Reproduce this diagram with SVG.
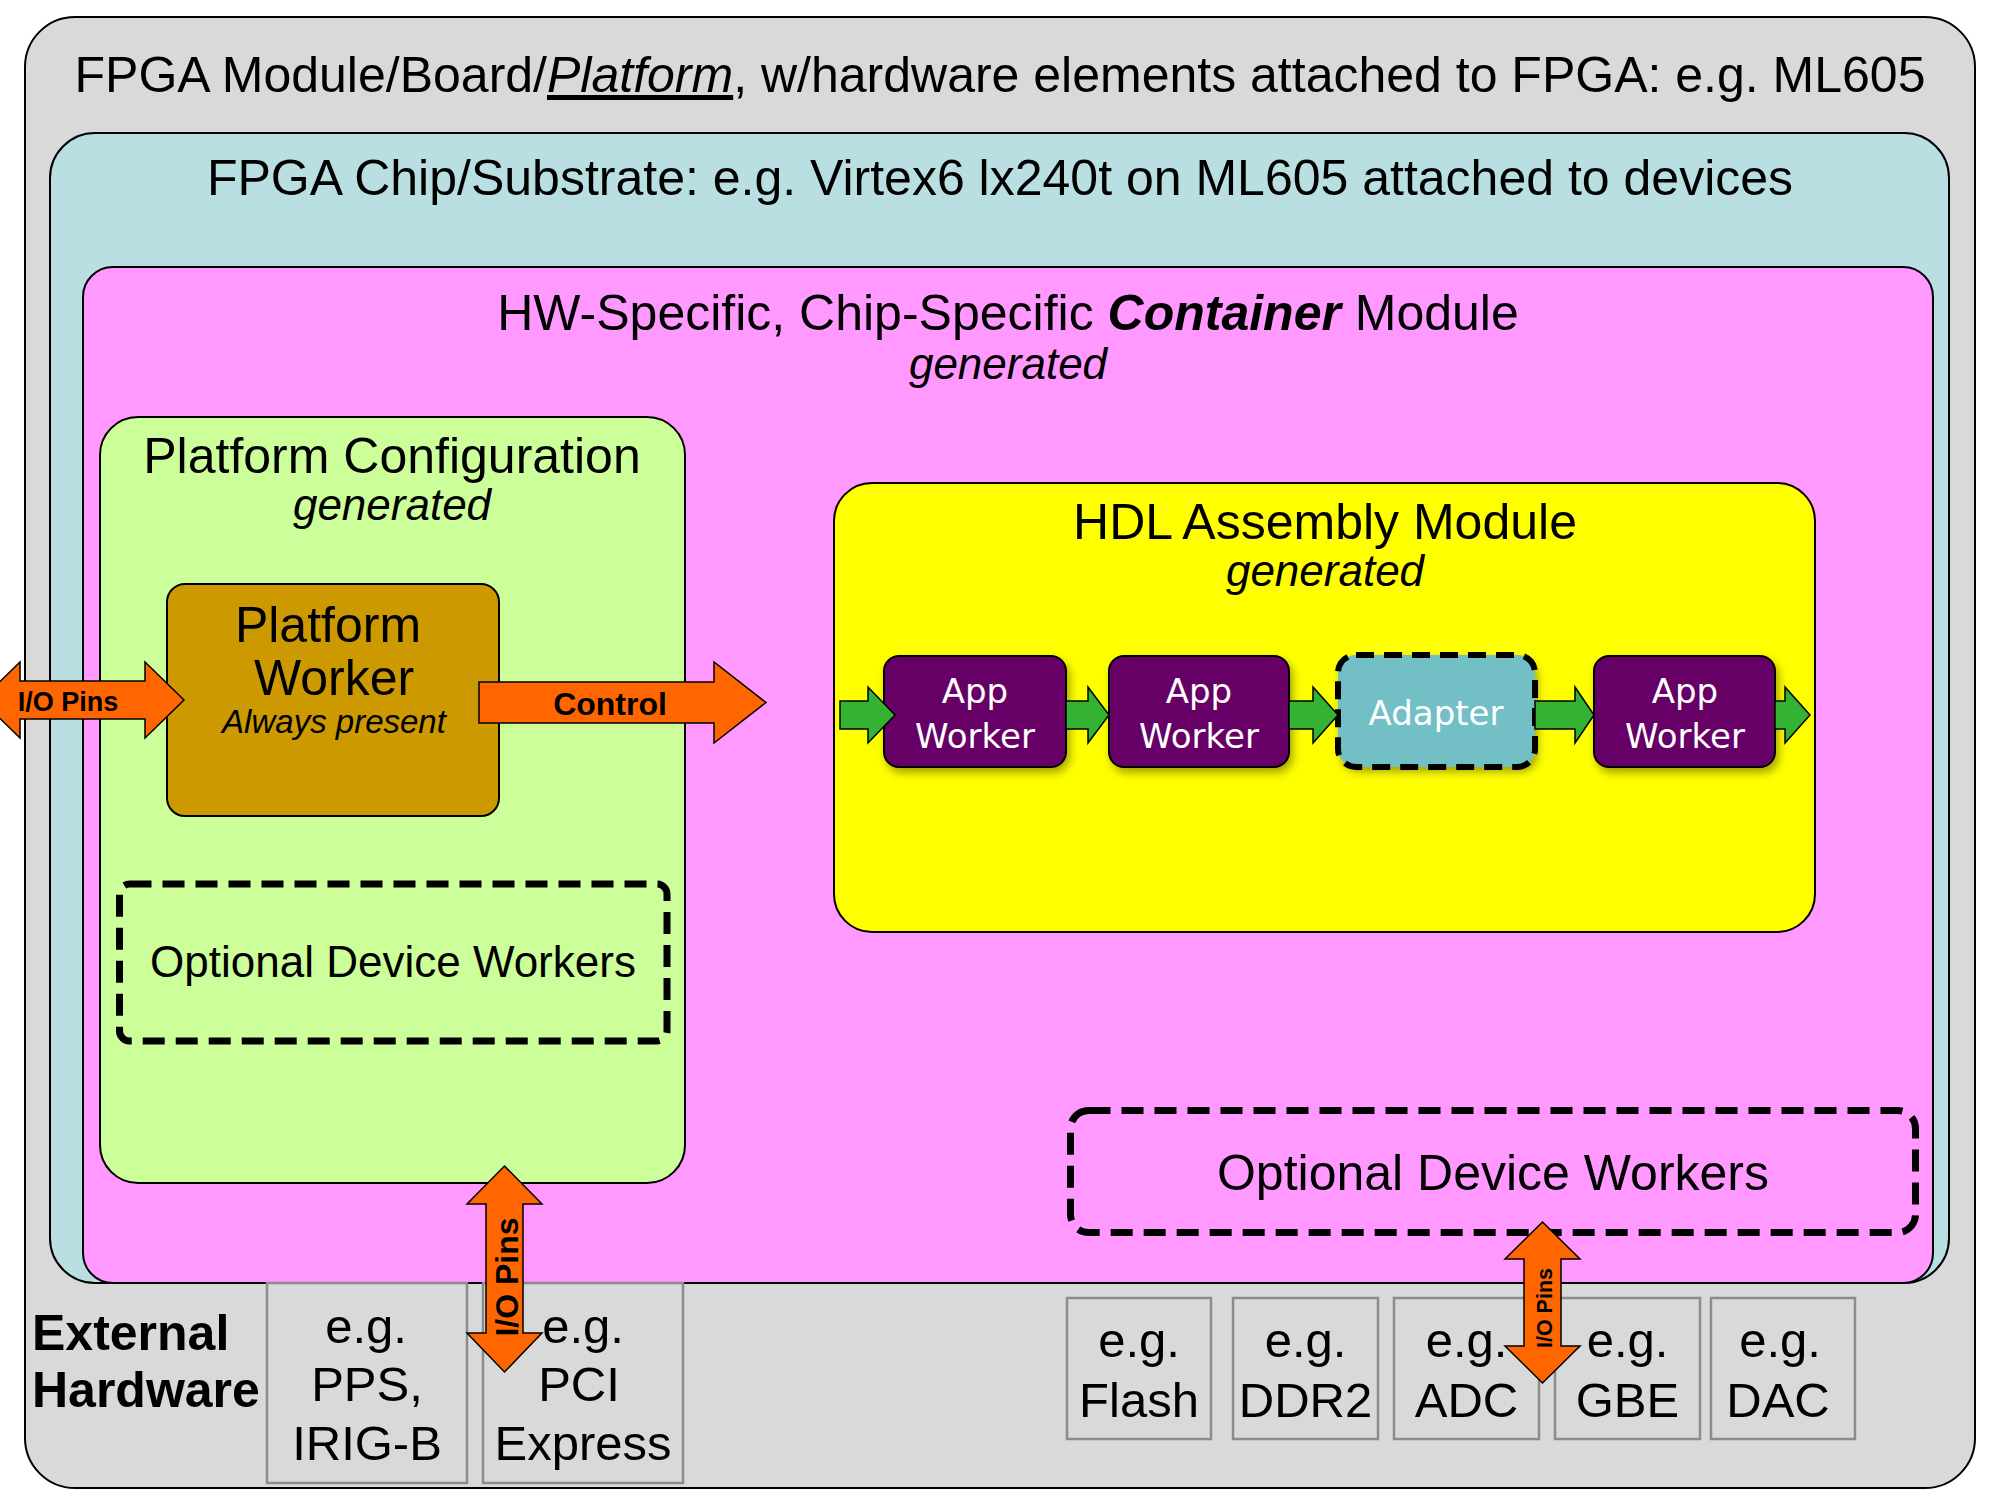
<svg xmlns="http://www.w3.org/2000/svg" width="2000" height="1500" viewBox="0 0 2000 1500">
<defs>
<style>
text{font-family:"Liberation Sans",Arial,sans-serif;fill:#000}
.big{font-size:50px}
.gen{font-size:44px;font-style:italic}
.box{stroke:#000;stroke-width:2}
.dash{fill:none;stroke:#000;stroke-width:7;stroke-dasharray:22 11}
.ext{fill:#D9D9D9;stroke:#8C8C8C;stroke-width:2.5}
.ext-t{font-size:49px;text-anchor:middle}
.orange{fill:#FF6600;stroke:#000;stroke-width:1.5}
.garrow{fill:#33B233;stroke:#000;stroke-width:1.5}
.app{fill:#660066;stroke:#000;stroke-width:2}
.wt{font-family:"DejaVu Sans",Verdana,sans-serif;font-size:34px;fill:#fff;text-anchor:middle}
.mid{text-anchor:middle}
</style>
<filter id="sh" x="-20%" y="-20%" width="150%" height="160%">
<feDropShadow dx="3" dy="5" stdDeviation="4" flood-color="#000" flood-opacity="0.35"/>
</filter>
</defs>

<g id="board">
<rect class="box" x="25" y="17" width="1950" height="1471" rx="50" fill="#D9D9D9"/>
<text class="big mid" x="1000" y="92">FPGA Module/Board/<tspan font-style="italic" text-decoration="underline">Platform</tspan>, w/hardware elements attached to FPGA: e.g. ML605</text>
</g>

<g id="chip">
<rect class="box" x="50" y="133" width="1899" height="1150" rx="45" fill="#B9DFE3"/>
<text class="big mid" x="1000" y="195">FPGA Chip/Substrate: e.g. Virtex6 lx240t on ML605 attached to devices</text>
</g>

<g id="container">
<rect class="box" x="83" y="267" width="1850" height="1016" rx="30" fill="#FF99FF"/>
<text class="big mid" x="1008" y="330">HW-Specific, Chip-Specific <tspan font-weight="bold" font-style="italic">Container</tspan> Module</text>
<text class="gen mid" x="1008" y="379">generated</text>
</g>

<g id="platform-config">
<rect class="box" x="100" y="417" width="585" height="766" rx="38" fill="#CCFF99"/>
<text class="big mid" x="392" y="473">Platform Configuration</text>
<text class="gen mid" x="392" y="520">generated</text>
</g>

<g id="platform-worker">
<rect class="box" x="167" y="584" width="332" height="232" rx="18" fill="#CC9900"/>
<text class="big mid" x="328" y="642">Platform</text>
<text class="big mid" x="334" y="695">Worker</text>
<text class="mid" x="334" y="733" font-size="33" font-style="italic">Always present</text>
</g>

<g id="optional-left">
<rect class="dash" x="119.5" y="884" width="547.5" height="157" rx="10"/>
<text class="mid" x="393" y="977" font-size="44">Optional Device Workers</text>
</g>

<g id="hdl-assembly">
<rect class="box" x="834" y="483" width="981" height="449" rx="38" fill="#FFFF00"/>
<text class="big mid" x="1325" y="539">HDL Assembly Module</text>
<text class="gen mid" x="1325" y="586">generated</text>
</g>

<g id="app-worker-1">
<rect class="app" x="884" y="656" width="182" height="111" rx="15" filter="url(#sh)"/>
<text class="wt" x="975" y="703">App</text>
<text class="wt" x="975" y="748">Worker</text>
</g>
<g id="app-worker-2">
<rect class="app" x="1109" y="656" width="180" height="111" rx="15" filter="url(#sh)"/>
<text class="wt" x="1199" y="703">App</text>
<text class="wt" x="1199" y="748">Worker</text>
</g>
<g id="adapter">
<rect x="1338" y="655" width="197" height="112" rx="18" fill="#72BFC6" filter="url(#sh)"/>
<rect x="1338" y="655" width="197" height="112" rx="18" fill="none" stroke="#000" stroke-width="6" stroke-dasharray="18 10"/>
<text class="wt" x="1436" y="725">Adapter</text>
</g>
<g id="app-worker-3">
<rect class="app" x="1594" y="656" width="181" height="111" rx="15" filter="url(#sh)"/>
<text class="wt" x="1685" y="703">App</text>
<text class="wt" x="1685" y="748">Worker</text>
</g>

<g id="optional-right">
<rect class="dash" x="1070.5" y="1110.5" width="845" height="122" rx="18"/>
<text class="big mid" x="1493" y="1190">Optional Device Workers</text>
</g>

<g id="external-label">
<text x="32" y="1350" font-size="50" font-weight="bold">External</text>
<text x="32" y="1407" font-size="50" font-weight="bold">Hardware</text>
</g>
<g id="ext-pps">
<rect class="ext" x="267" y="1283" width="200" height="200"/>
<text class="ext-t" x="366" y="1343">e.g.</text>
<text class="ext-t" x="367" y="1401">PPS,</text>
<text class="ext-t" x="367" y="1460">IRIG-B</text>
</g>
<g id="ext-pci">
<rect class="ext" x="483" y="1283" width="200" height="200"/>
<text class="ext-t" x="583" y="1343">e.g.</text>
<text class="ext-t" x="579" y="1401">PCI</text>
<text class="ext-t" x="583" y="1460">Express</text>
</g>
<g id="ext-flash">
<rect class="ext" x="1067" y="1298" width="144" height="141"/>
<text class="ext-t" x="1139" y="1357">e.g.</text>
<text class="ext-t" x="1139" y="1417">Flash</text>
</g>
<g id="ext-ddr2">
<rect class="ext" x="1233" y="1298" width="145" height="141"/>
<text class="ext-t" x="1305.5" y="1357">e.g.</text>
<text class="ext-t" x="1305.5" y="1417">DDR2</text>
</g>
<g id="ext-adc">
<rect class="ext" x="1394" y="1298" width="145" height="141"/>
<text class="ext-t" x="1466.5" y="1357">e.g.</text>
<text class="ext-t" x="1466.5" y="1417">ADC</text>
</g>
<g id="ext-gbe">
<rect class="ext" x="1555" y="1298" width="145" height="141"/>
<text class="ext-t" x="1627.5" y="1357">e.g.</text>
<text class="ext-t" x="1627.5" y="1417">GBE</text>
</g>
<g id="ext-dac">
<rect class="ext" x="1711" y="1298" width="144" height="141"/>
<text class="ext-t" x="1780" y="1357">e.g.</text>
<text class="ext-t" x="1778" y="1417">DAC</text>
</g>

<g id="connectors">
<polygon class="orange" points="-19,700 20,662 20,681 145,681 145,662 184,700 145,738 145,719 20,719 20,738"/>
<text x="68" y="711" font-size="27" font-weight="bold" class="mid">I/O Pins</text>
<polygon class="orange" points="479,682 714,682 714,662 766,702.5 714,743 714,723 479,723"/>
<text x="610" y="715" font-size="32" font-weight="bold" class="mid">Control</text>
<polygon class="orange" points="504.5,1166 542,1204 523,1204 523,1333 542,1333 504.5,1372 467,1333 486,1333 486,1204 467,1204"/>
<text transform="translate(506,1277) rotate(-90)" x="0" y="11.5" font-size="32" font-weight="bold" class="mid">I/O Pins</text>
<polygon class="orange" points="1542.5,1222 1580,1259 1561,1259 1561,1346 1580,1346 1542.5,1383 1505,1346 1524,1346 1524,1259 1505,1259"/>
<text transform="translate(1544,1308) rotate(-90)" x="0" y="7.5" font-size="21.5" font-weight="bold" class="mid">I/O Pins</text>
<polygon class="garrow" points="840,701 868,701 868,687 895,715 868,743 868,729 840,729"/>
<polygon class="garrow" points="1066,701 1088,701 1088,687 1109,715 1088,743 1088,729 1066,729"/>
<polygon class="garrow" points="1289,701 1313,701 1313,687 1338,715 1313,743 1313,729 1289,729"/>
<polygon class="garrow" points="1535,701 1575,701 1575,687 1594,715 1575,743 1575,729 1535,729"/>
<polygon class="garrow" points="1775,701 1785,701 1785,687 1810,715 1785,743 1785,729 1775,729"/>
</g>
</svg>
